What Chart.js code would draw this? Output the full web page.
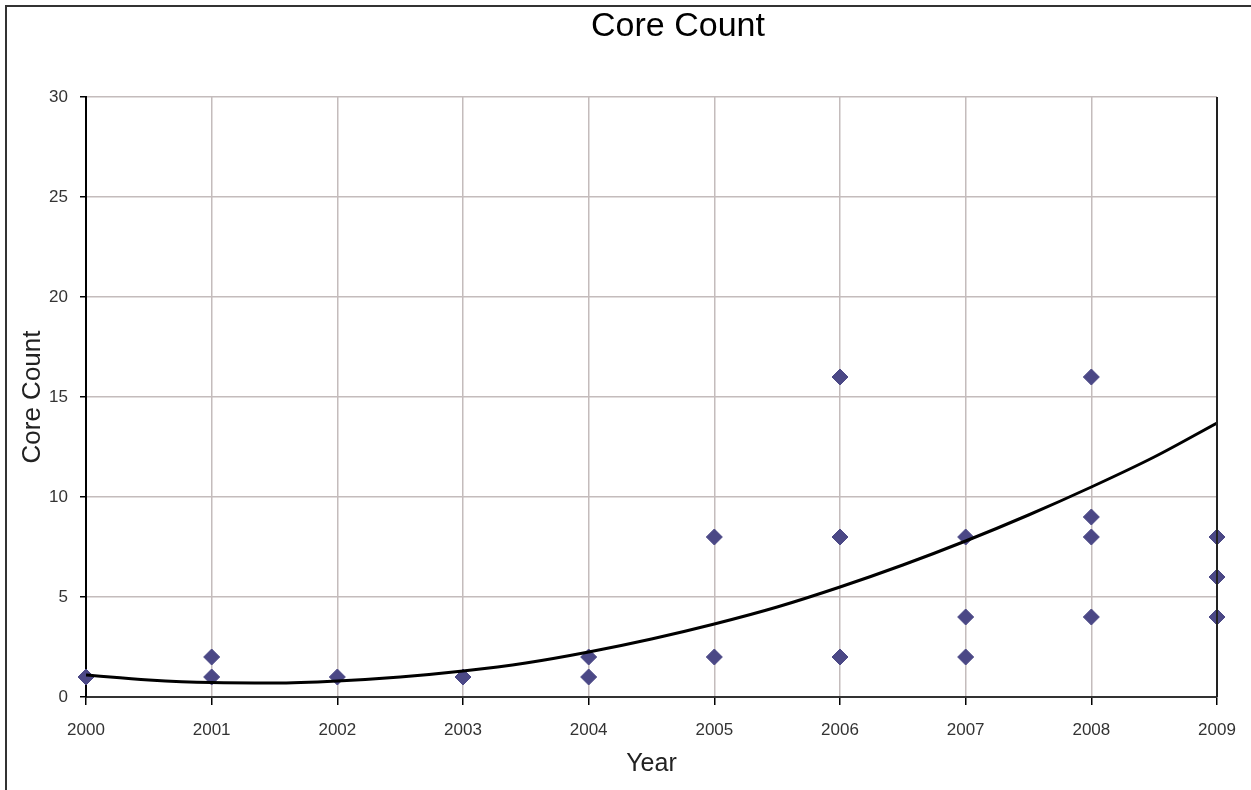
<!DOCTYPE html>
<html>
<head>
<meta charset="utf-8">
<script src="https://cdn.jsdelivr.net/npm/chart.js@4/dist/chart.umd.min.js"></script>
<style>
  html, body { margin: 0; padding: 0; background: #fff; overflow: hidden; }
  #wrap { position: relative; width: 1251px; height: 790px; }
  #frame { position: absolute; left: 5px; top: 5px; width: 1400px; height: 900px;
           border-left: 2px solid #333; border-top: 2px solid #333; pointer-events: none; }
</style>
</head>
<body>
<div id="wrap">
  <canvas id="chart" width="1251" height="790"></canvas>
  <div id="frame"></div>
</div>
<script>
// Puntos observados (año, núcleos)
const years = [2000, 2001, 2001, 2002, 2003, 2004, 2004, 2005, 2005,
               2006, 2006, 2006, 2007, 2007, 2007, 2008, 2008, 2008, 2008,
               2009, 2009, 2009];
const cores = [1, 1, 2, 1, 1, 1, 2, 2, 8,
               2, 8, 16, 2, 4, 8, 4, 8, 9, 16,
               4, 6, 8];

// Línea de tendencia
const trendYears = [2000, 2000.5, 2001, 2001.5, 2002, 2002.5, 2003, 2003.5, 2004,
                    2004.5, 2005, 2005.5, 2006, 2006.5, 2007, 2007.5, 2008, 2008.5, 2009];
const trendValues = [1.1, 0.85, 0.72, 0.7, 0.8, 1.0, 1.3, 1.7, 2.25,
                     2.9, 3.65, 4.5, 5.5, 6.6, 7.8, 9.1, 10.5, 12.0, 13.7];

const yTicks = [0, 5, 10, 15, 20, 25, 30];

const chartTitle = 'Core Count';

const FONT = "'Liberation Sans', Arial, sans-serif";

// Título y borde derecho del área de trazado
const extras = {
  id: 'extras',
  afterDraw(chart) {
    const { ctx, chartArea } = chart;
    ctx.save();
    ctx.strokeStyle = '#222';
    ctx.lineWidth = 2;
    ctx.beginPath();
    ctx.moveTo(chartArea.right, chartArea.top);
    ctx.lineTo(chartArea.right, chartArea.bottom);
    ctx.stroke();

    ctx.fillStyle = '#000';
    ctx.font = '34px ' + FONT;
    ctx.textAlign = 'center';
    ctx.textBaseline = 'middle';
    ctx.fillText(chartTitle, 678, 27);
    ctx.restore();
  }
};

new Chart(document.getElementById('chart'), {
  type: 'scatter',
  data: {
    datasets: [
      {
        type: 'line',
        label: 'Tendencia',
        data: trendYears.map((x, i) => ({ x: x, y: trendValues[i] })),
        borderColor: '#000',
        borderWidth: 3,
        pointRadius: 0,
        cubicInterpolationMode: 'monotone',
        fill: false,
        order: 0
      },
      {
        label: 'Core Count',
        data: years.map((x, i) => ({ x: x, y: cores[i] })),
        pointStyle: 'rectRot',
        pointRadius: 8,
        backgroundColor: '#4b4886',
        borderColor: '#4b4886',
        borderWidth: 1,
        clip: false,
        order: 1
      }
    ]
  },
  options: {
    responsive: false,
    animation: false,
    layout: { padding: { left: 0, right: 34, top: 97, bottom: 0 } },
    plugins: {
      legend: { display: false },
      tooltip: { enabled: false },
      title: { display: false }
    },
    scales: {
      x: {
        type: 'linear',
        min: 2000,
        max: 2009,
        afterFit(scale) { scale.height = 93; },
        ticks: {
          stepSize: 1,
          color: '#333',
          padding: 15,
          font: { family: FONT, size: 17 },
          callback: (v) => String(v)
        },
        grid: { color: '#c4bcbc', lineWidth: 1.5, tickLength: 8, tickColor: '#000' },
        border: { color: '#333', width: 2 },
        title: {
          display: true,
          text: 'Year',
          color: '#222',
          font: { family: FONT, size: 25 },
          padding: { top: 0, bottom: 11 }
        }
      },
      y: {
        min: 0,
        max: 30,
        afterFit(scale) { scale.width = 86; },
        afterBuildTicks(scale) { scale.ticks = yTicks.map(v => ({ value: v })); },
        ticks: {
          color: '#333',
          padding: 12,
          font: { family: FONT, size: 17 }
        },
        grid: { color: '#c4bcbc', lineWidth: 1.5, tickLength: 6, tickColor: '#000' },
        border: { color: '#000', width: 2 },
        title: {
          display: true,
          text: 'Core Count',
          color: '#222',
          font: { family: FONT, size: 26 },
          padding: { top: 17, bottom: 0 }
        }
      }
    }
  },
  plugins: [extras]
});
</script>
</body>
</html>
